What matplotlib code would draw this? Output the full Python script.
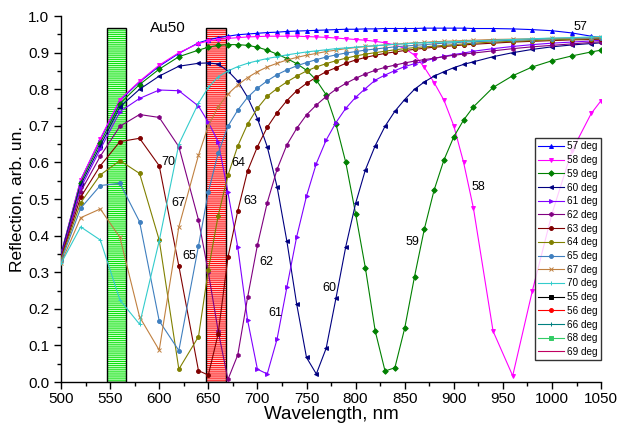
import matplotlib
matplotlib.use("Agg")
import matplotlib.pyplot as plt
from matplotlib.patches import Rectangle
from matplotlib.ticker import MultipleLocator, FormatStrFormatter

plt.rcParams['font.family'] = ['Liberation Sans', 'DejaVu Sans']
plt.rcParams['hatch.linewidth'] = 0.7

# Wavelength grid (nm)
wavelength = [500, 520, 540, 560, 580, 600, 620, 640,
              650, 660, 670, 680, 690, 700, 710, 720, 730, 740, 750, 760,
              770, 780, 790, 800, 810, 820, 830, 840, 850, 860, 870, 880,
              890, 900, 910, 920,
              940, 960, 980, 1000, 1020, 1040, 1050]

# Reflection for each incidence angle
r57 = [0.350, 0.552, 0.663, 0.770, 0.820, 0.863, 0.898, 0.927,
       0.935, 0.941, 0.945, 0.949, 0.951, 0.953, 0.955, 0.956, 0.958, 0.959, 0.960, 0.961,
       0.962, 0.963, 0.964, 0.964, 0.965, 0.965, 0.966, 0.966, 0.966, 0.966, 0.967, 0.967,
       0.967, 0.967, 0.967, 0.966,
       0.966, 0.965, 0.963, 0.960, 0.954, 0.945, 0.941]
r58 = [0.350, 0.552, 0.665, 0.772, 0.822, 0.866, 0.900, 0.925,
       0.932, 0.936, 0.939, 0.941, 0.943, 0.944, 0.945, 0.945, 0.945, 0.945, 0.944, 0.943,
       0.942, 0.940, 0.938, 0.936, 0.934, 0.931, 0.927, 0.921, 0.912, 0.893, 0.860, 0.818,
       0.770, 0.700, 0.600, 0.475,
       0.139, 0.017, 0.249, 0.460, 0.630, 0.734, 0.769]
r59 = [0.348, 0.545, 0.654, 0.761, 0.813, 0.855, 0.889, 0.907,
       0.915, 0.920, 0.922, 0.922, 0.920, 0.915, 0.907, 0.896, 0.884, 0.870, 0.852, 0.825,
       0.785, 0.705, 0.600, 0.460, 0.311, 0.139, 0.030, 0.039, 0.147, 0.288, 0.418, 0.525,
       0.607, 0.670, 0.716, 0.752,
       0.805, 0.837, 0.861, 0.878, 0.891, 0.902, 0.907]
r60 = [0.345, 0.538, 0.645, 0.752, 0.800, 0.836, 0.863, 0.871,
       0.872, 0.869, 0.850, 0.822, 0.778, 0.720, 0.643, 0.534, 0.385, 0.213, 0.067, 0.022,
       0.092, 0.229, 0.370, 0.488, 0.580, 0.646, 0.699, 0.740, 0.772, 0.800, 0.820, 0.836,
       0.848, 0.859, 0.868, 0.875,
       0.889, 0.900, 0.909, 0.916, 0.921, 0.925, 0.927]
r61 = [0.343, 0.530, 0.636, 0.739, 0.775, 0.798, 0.796, 0.754,
       0.710, 0.657, 0.518, 0.368, 0.169, 0.035, 0.022, 0.117, 0.259, 0.397, 0.508, 0.597,
       0.661, 0.709, 0.748, 0.778, 0.802, 0.825, 0.839, 0.851, 0.862, 0.870, 0.877, 0.884,
       0.890, 0.895, 0.899, 0.904,
       0.911, 0.917, 0.922, 0.926, 0.929, 0.932, 0.934]
r62 = [0.340, 0.520, 0.617, 0.699, 0.731, 0.723, 0.643, 0.443,
       0.300, 0.140, 0.007, 0.074, 0.231, 0.374, 0.490, 0.581, 0.648, 0.693, 0.730, 0.757,
       0.780, 0.800, 0.816, 0.830, 0.842, 0.852, 0.860, 0.866, 0.872, 0.877, 0.881, 0.885,
       0.889, 0.893, 0.896, 0.899,
       0.905, 0.911, 0.916, 0.920, 0.924, 0.928, 0.930]
r63 = [0.338, 0.505, 0.591, 0.657, 0.666, 0.591, 0.317, 0.031,
       0.019, 0.131, 0.341, 0.468, 0.577, 0.643, 0.696, 0.736, 0.769, 0.796, 0.816, 0.833,
       0.848, 0.859, 0.871, 0.880, 0.887, 0.893, 0.898, 0.902, 0.906, 0.909, 0.912, 0.915,
       0.917, 0.919, 0.921, 0.923,
       0.926, 0.929, 0.931, 0.933, 0.935, 0.936, 0.937]
r64 = [0.335, 0.490, 0.566, 0.605, 0.570, 0.388, 0.035, 0.124,
       0.306, 0.454, 0.565, 0.645, 0.705, 0.748, 0.781, 0.802, 0.820, 0.836, 0.850, 0.861,
       0.870, 0.878, 0.885, 0.891, 0.896, 0.900, 0.904, 0.908, 0.911, 0.914, 0.916, 0.918,
       0.920, 0.922, 0.924, 0.926,
       0.929, 0.931, 0.933, 0.935, 0.937, 0.938, 0.939]
r65 = [0.330, 0.475, 0.537, 0.543, 0.438, 0.167, 0.086, 0.372,
       0.519, 0.625, 0.699, 0.743, 0.778, 0.803, 0.823, 0.840, 0.853, 0.864, 0.873, 0.881,
       0.888, 0.894, 0.899, 0.903, 0.907, 0.910, 0.913, 0.916, 0.918, 0.920, 0.922, 0.924,
       0.926, 0.927, 0.929, 0.930,
       0.932, 0.934, 0.936, 0.938, 0.939, 0.940, 0.941]
r67 = [0.325, 0.449, 0.473, 0.395, 0.178, 0.087, 0.424, 0.620,
       0.700, 0.752, 0.787, 0.812, 0.832, 0.848, 0.861, 0.871, 0.880, 0.887, 0.893, 0.898,
       0.903, 0.907, 0.911, 0.914, 0.917, 0.919, 0.921, 0.923, 0.925, 0.927, 0.928, 0.930,
       0.931, 0.932, 0.933, 0.934,
       0.936, 0.937, 0.938, 0.939, 0.940, 0.941, 0.942]
r70 = [0.324, 0.424, 0.388, 0.224, 0.158, 0.386, 0.650, 0.762,
       0.805, 0.834, 0.850, 0.862, 0.871, 0.878, 0.884, 0.889, 0.894, 0.898, 0.902, 0.905,
       0.908, 0.911, 0.913, 0.915, 0.917, 0.919, 0.921, 0.923, 0.924, 0.926, 0.927, 0.928,
       0.929, 0.930, 0.931, 0.932,
       0.934, 0.936, 0.938, 0.940, 0.941, 0.943, 0.944]
# Angles listed in the legend without measured curves
r55 = []
r56 = []
r66 = []
r68 = []
r69 = []

series = [
    ("57 deg", r57, '#0000ff', '^'),
    ("58 deg", r58, '#ff00ff', 'v'),
    ("59 deg", r59, '#008000', 'D'),
    ("60 deg", r60, '#000080', '<'),
    ("61 deg", r61, '#8000ff', '>'),
    ("62 deg", r62, '#800080', 'h'),
    ("63 deg", r63, '#800000', 'o'),
    ("64 deg", r64, '#808000', 'o'),
    ("65 deg", r65, '#3f7fbf', 'o'),
    ("67 deg", r67, '#c08040', 'x'),
    ("70 deg", r70, '#33cccc', '+'),
    ("55 deg", r55, '#000000', 's'),
    ("56 deg", r56, '#ff0000', 'o'),
    ("66 deg", r66, '#008080', '+'),
    ("68 deg", r68, '#33cc66', 's'),
    ("69 deg", r69, '#c00060', ''),
]

# Curve annotations: (text, wavelength, reflection)
curve_labels = [("57", 1029, 0.970), ("58", 925, 0.533), ("59", 858, 0.383),
                ("60", 773, 0.257), ("61", 718, 0.189), ("62", 709, 0.328),
                ("63", 693, 0.495), ("64", 681, 0.598), ("65", 631, 0.344),
                ("67", 620, 0.489), ("70", 609, 0.601)]

# Highlighted spectral windows: (start, end, height, line colour, fill colour)
bands = [(547, 566, 0.967, '#00e000', '#d0ffd0'),
         (648, 668, 0.967, '#ff0000', '#ffd0d0')]

fig = plt.figure(figsize=(6.17, 4.30), dpi=100)
ax = fig.add_axes([0.0989, 0.1116, 0.8753, 0.851])

for x0, x1, h, lc, fc in bands:
    ax.add_patch(Rectangle((x0, 0), x1 - x0, h, facecolor=fc, edgecolor=lc,
                           hatch='-' * 8, linewidth=0, zorder=1))
    ax.add_patch(Rectangle((x0, 0), x1 - x0, h, facecolor='none',
                           edgecolor='black', linewidth=1.0, zorder=1.5))

for name, vals, color, mk in series:
    xs = wavelength[:len(vals)]
    ax.plot(xs, vals, color=color, lw=0.8, marker=mk if mk else None,
            markersize=2.8, markerfacecolor=color, markeredgecolor=color,
            markeredgewidth=0.7, label=name, zorder=3)

for txt, x, y in curve_labels:
    ax.text(x, y, txt, fontsize=9, ha='center', va='center', zorder=4)

ax.text(609, 0.968, "Au50", fontsize=11, ha='center', va='center')

ax.set_xlim(500, 1050)
ax.set_ylim(0.0, 1.0)
ax.xaxis.set_major_locator(MultipleLocator(50))
ax.xaxis.set_minor_locator(MultipleLocator(25))
ax.yaxis.set_major_locator(MultipleLocator(0.1))
ax.yaxis.set_minor_locator(MultipleLocator(0.05))
ax.yaxis.set_major_formatter(FormatStrFormatter('%.1f'))
ax.tick_params(which='major', direction='out', length=5, width=1, labelsize=11)
ax.tick_params(axis='x', which='major', pad=2)
ax.tick_params(which='minor', direction='out', length=3, width=1)
ax.spines['top'].set_visible(False)
ax.spines['right'].set_visible(False)
ax.spines['left'].set_linewidth(1)
ax.spines['bottom'].set_linewidth(1)

ax.set_xlabel("Wavelength, nm", fontsize=13.5, labelpad=0)
ax.set_ylabel("Reflection, arb. un.", fontsize=12.5, labelpad=2)

leg = ax.legend(loc='upper right', bbox_to_anchor=(1.0, 0.667), fontsize=7.2,
                frameon=True, fancybox=False, edgecolor='black',
                handlelength=2.6, handletextpad=0.3, labelspacing=0.37,
                borderpad=0.35, borderaxespad=0.0)
leg.get_frame().set_linewidth(1.0)

fig.savefig("out.png", dpi=100)
